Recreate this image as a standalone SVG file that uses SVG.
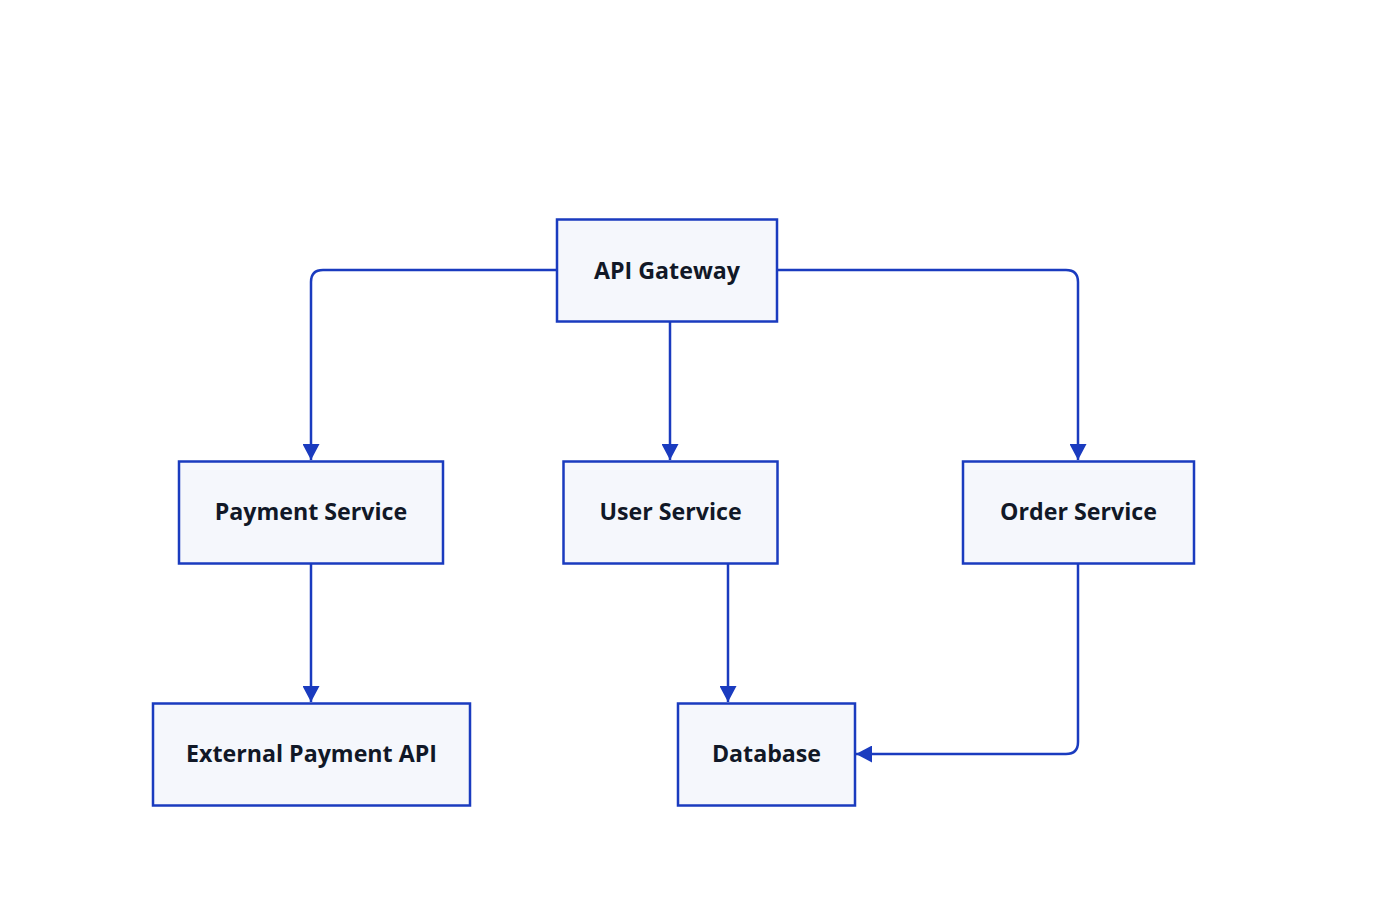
<svg xmlns="http://www.w3.org/2000/svg" width="1400" height="924" viewBox="0 0 1400 924">
<style>
.box{fill:#f5f7fc;stroke:#1a3bbf;stroke-width:2.5}
.lbl{font-family:"Open Sans","Liberation Sans",sans-serif;font-weight:700;font-size:23.2px;fill:#111827;text-anchor:middle;dominant-baseline:central}
.edge{fill:none;stroke:#1a3bbf;stroke-width:2.5}
</style>
<defs>
<marker id="arr" viewBox="0 0 16 17" refX="16" refY="8.5" markerWidth="16" markerHeight="17" markerUnits="userSpaceOnUse" orient="auto">
<path d="M0,0 L16,8.5 L0,17 Z" fill="#1a3bbf"/>
</marker>
</defs>
<rect width="1400" height="924" fill="#ffffff"/>
<g id="connectors">
<path class="edge" d="M557,270 H323 Q311,270 311,282 V460" marker-end="url(#arr)"/>
<path class="edge" d="M670,322 V460" marker-end="url(#arr)"/>
<path class="edge" d="M777,270 H1066 Q1078,270 1078,282 V460" marker-end="url(#arr)"/>
<path class="edge" d="M311,563 V702" marker-end="url(#arr)"/>
<path class="edge" d="M728,563 V702" marker-end="url(#arr)"/>
<path class="edge" d="M1078,563 V742 Q1078,754 1066,754 H856" marker-end="url(#arr)"/>
</g>
<g id="api-gateway"><rect class="box" x="557" y="219.5" width="220" height="102"/><text class="lbl" x="667" y="270">API Gateway</text></g>
<g id="payment-service"><rect class="box" x="179" y="461.5" width="264" height="102"/><text class="lbl" x="311" y="511">Payment Service</text></g>
<g id="user-service"><rect class="box" x="563.5" y="461.5" width="214" height="102"/><text class="lbl" x="670.5" y="511">User Service</text></g>
<g id="order-service"><rect class="box" x="963" y="461.5" width="231" height="102"/><text class="lbl" x="1078.5" y="511">Order Service</text></g>
<g id="external-payment-api"><rect class="box" x="153" y="703.5" width="317" height="102"/><text class="lbl" x="311.5" y="753">External Payment API</text></g>
<g id="database"><rect class="box" x="678" y="703.5" width="177" height="102"/><text class="lbl" x="766.5" y="753">Database</text></g>
</svg>
